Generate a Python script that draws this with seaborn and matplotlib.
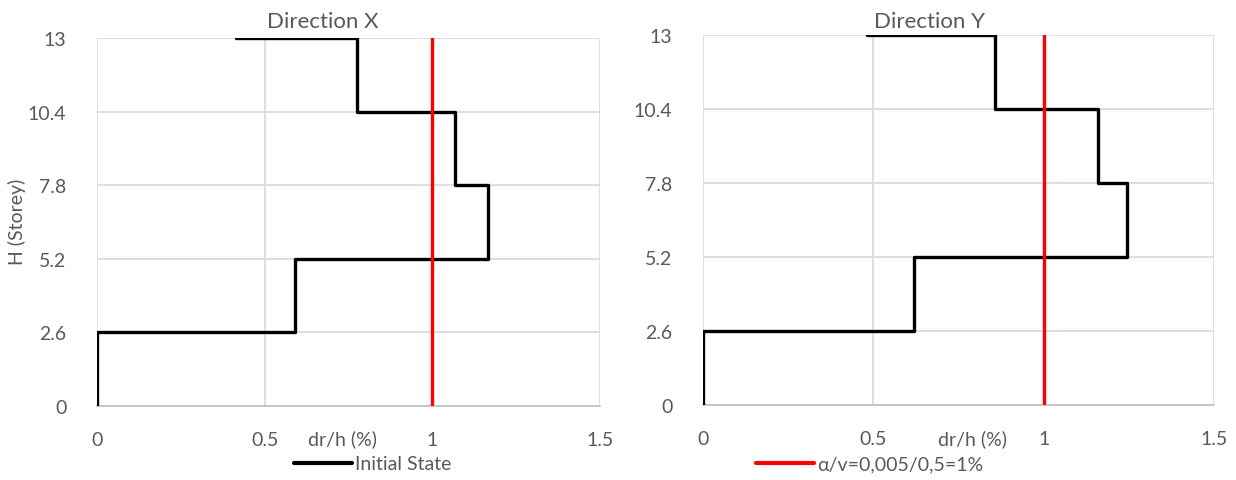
import numpy as np
import pandas as pd
import matplotlib
matplotlib.use("Agg")
import matplotlib.pyplot as plt
import seaborn as sns

# niveles de planta y derivas (dr/h en %)
niveles = [0, 2.6, 5.2, 7.8, 10.4, 13]
deriva_x = [0, 0.59, 1.165, 1.067, 0.775, 0.414]
deriva_y = [0, 0.618, 1.245, 1.159, 0.858, 0.48]
limite_x = [1, 1]
limite_y = [0, 13]
xticks = [0, 0.5, 1, 1.5]
xtick_labels = ["0", "0.5", "1", "1.5"]
ytick_labels = ["0", "2.6", "5.2", "7.8", "10.4", "13"]
titulos = ["Direction X", "Direction Y"]
etiqueta_estado = "Initial State"
etiqueta_limite = "α/v=0,005/0,5=1%"


def escalones(deriva, niveles):
    # perfil en escalera: vertical en cada deriva, horizontal en cada nivel
    xs, ys = [], []
    for i in range(len(niveles) - 1):
        xs += [deriva[i], deriva[i]]
        ys += [niveles[i], niveles[i + 1]]
    xs.append(deriva[-1])
    ys.append(niveles[-1])
    return pd.DataFrame({"x": xs, "y": ys})


sns.set_theme(style="white")
plt.rcParams["font.family"] = ["Lato", "DejaVu Sans"]
gris = "#595959"
fs = 14

fig = plt.figure(figsize=(12.36, 4.81), dpi=100)
W, H = 1236, 481
cajas = [(97, 39, 600, 407), (703, 36, 1214, 406)]
titulo_x = [323, 930]
xlabel_x = [342, 972]

for k, (deriva, caja) in enumerate(zip([deriva_x, deriva_y], cajas)):
    x0, y0, x1, y1 = caja
    ax = fig.add_axes([x0 / W, 1 - y1 / H, (x1 - x0) / W, (y1 - y0) / H])
    df = escalones(deriva, niveles)
    sns.lineplot(data=df, x="x", y="y", sort=False, estimator=None, color="black",
                 linewidth=2.4, ax=ax, zorder=3)
    df_lim = pd.DataFrame({"x": limite_x, "y": limite_y})
    sns.lineplot(data=df_lim, x="x", y="y", sort=False, estimator=None, color="#ff0000",
                 linewidth=2.4, ax=ax, zorder=4)
    ax.set_xlim(0, 1.5)
    ax.set_ylim(0, 13)
    ax.set_xticks(xticks)
    ax.set_xticklabels(xtick_labels)
    ax.set_yticks(niveles)
    ax.set_yticklabels(ytick_labels)
    ax.grid(True, color="#d9d9d9", linewidth=1.2, zorder=0)
    for s in ["top", "right", "left"]:
        ax.spines[s].set_visible(False)
    ax.spines["bottom"].set_color("#bfbfbf")
    ax.spines["bottom"].set_linewidth(1.2)
    ax.tick_params(axis="both", length=0, labelsize=fs, labelcolor=gris)
    ax.tick_params(axis="x", pad=18)
    ax.tick_params(axis="y", pad=22)
    ax.set_xlabel("")
    ax.set_ylabel("")
    fig.text(titulo_x[k] / W, 1 - 22 / H, titulos[k], ha="center", va="center",
             fontsize=16, color=gris)
    fig.text(xlabel_x[k] / W, 1 - 439 / H, "dr/h (%)", ha="center", va="center",
             fontsize=fs, color=gris)

fig.text(17 / W, 1 - 222 / H, "H (Storey)", rotation=90, ha="center", va="center",
         fontsize=fs, color=gris)

# leyenda repartida bajo los dos graficos
h1 = plt.Line2D([], [], color="black", linewidth=3)
h2 = plt.Line2D([], [], color="#ff0000", linewidth=3)
fig.legend([h1], [etiqueta_estado], loc="center left", bbox_to_anchor=(294 / W, 1 - 465 / H),
           frameon=False, fontsize=fs, labelcolor=gris, handlelength=3.0,
           handletextpad=0.15, borderpad=0, borderaxespad=0)
fig.legend([h2], [etiqueta_limite], loc="center left", bbox_to_anchor=(756 / W, 1 - 465 / H),
           frameon=False, fontsize=fs, labelcolor=gris, handlelength=3.0,
           handletextpad=0.15, borderpad=0, borderaxespad=0)

fig.savefig("out.png", dpi=100)
